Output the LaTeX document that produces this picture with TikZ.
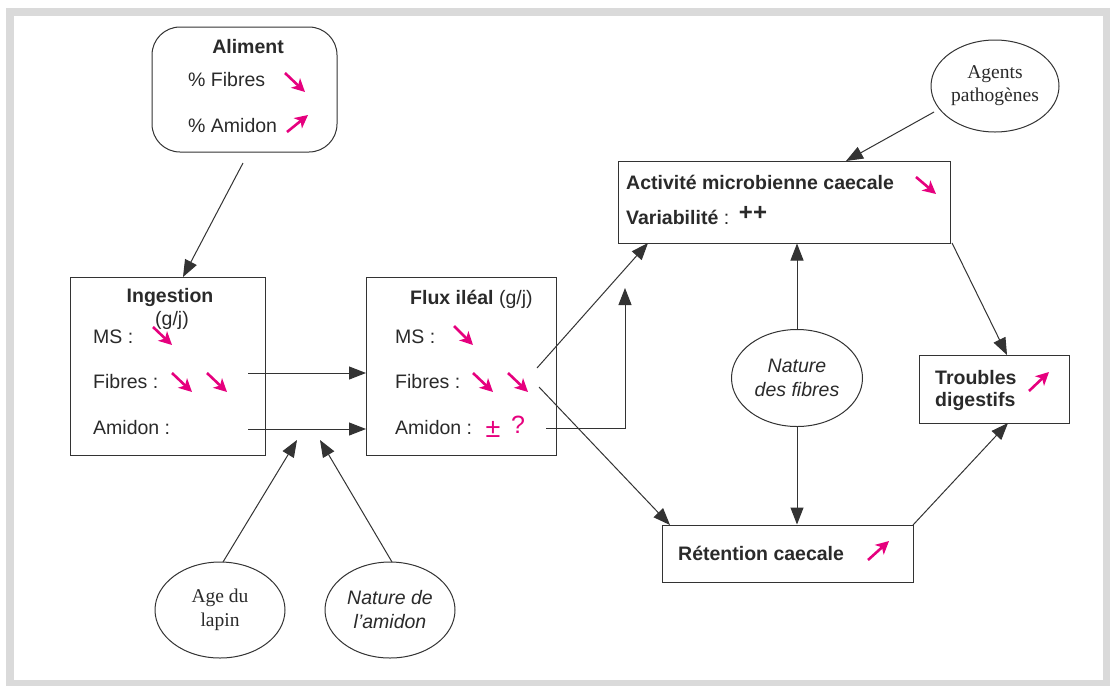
\documentclass[tikz,border=0pt]{standalone}
\usepackage{fontspec}
\setmainfont{Liberation Sans}
\newfontfamily\tnr{Liberation Serif}
\usetikzlibrary{arrows.meta,shapes.geometric}
\definecolor{mag}{HTML}{E6007E}
\definecolor{framegray}{HTML}{DADADA}
\definecolor{ink}{HTML}{2A2A2A}
\definecolor{lineink}{HTML}{333333}
\begin{document}
\begin{tikzpicture}[x=1pt,y=-1pt,
  every node/.style={font=\fontsize{19.5}{23}\selectfont, text=ink},
  box/.style={draw=lineink, line width=1pt, inner sep=0pt},
  ell/.style={draw=lineink, ellipse, line width=1pt, inner sep=0pt, align=center},
  conn/.style={draw=lineink, line width=1pt, -{Triangle[length=17pt,width=13pt]}},
  lbl/.style={anchor=west, inner sep=0pt},
  ttl/.style={inner sep=0pt, font=\fontsize{19.5}{23}\selectfont\bfseries},
  magdn/.style={draw=mag, line width=2.6pt, -{Stealth[length=13pt,width=13pt,inset=3.5pt]}},
]
\useasboundingbox (0,0) rectangle (1110,686);
\fill[framegray] (6,8) rectangle (1110,686);
\fill[white] (14,16) rectangle (1103,680);

% boxes
\node[box, rounded corners=28pt, minimum width=185pt, minimum height=125pt] (ali) at (244.5,89.5) {};
\node[box, minimum width=195pt, minimum height=178pt] (ing) at (167.5,366) {};
\node[box, minimum width=190pt, minimum height=178pt] (flux) at (461,366) {};
\node[box, minimum width=332pt, minimum height=82pt] (act) at (784,202) {};
\node[box, minimum width=150pt, minimum height=68pt] (tro) at (994,389) {};
\node[box, minimum width=251pt, minimum height=57pt] (ret) at (787.5,553.5) {};

% ellipses
\node[ell, minimum width=128pt, minimum height=92pt, font=\fontsize{19.5}{23}\selectfont\tnr] (agt) at (995,86) {Agents\\pathogènes};
\node[ell, minimum width=131pt, minimum height=97pt, font=\fontsize{19.5}{24}\selectfont\itshape] (nfib) at (797,378) {Nature\\des fibres};
\node[ell, minimum width=130pt, minimum height=96pt, font=\fontsize{19.5}{24}\selectfont\tnr] (age) at (220,610) {Age du\\lapin};
\node[ell, minimum width=130pt, minimum height=96pt, font=\fontsize{19.5}{24}\selectfont\itshape] (nam) at (390,610) {Nature de\\l'amidon};

% Aliment texts
\node[ttl] (aliT) at (248,47) {Aliment};
\node[lbl] (aliF) at (188,80) {\% Fibres};
\node[lbl] (aliA) at (188,126) {\% Amidon};
\draw[magdn] (285,73) -- (305,92);
\draw[magdn] (287,132) -- (308,115);

% Ingestion texts
\node[ttl] (ingT) at (170,297) {Ingestion};
\node[inner sep=0pt] (ingU) at (172,320) {(g/j)};
\node[lbl] (ingM) at (93,337) {MS :};
\node[lbl] (ingF) at (93,382) {Fibres :};
\node[lbl] (ingA) at (93,428) {Amidon :};
\draw[magdn] (153,327) -- (172,345);
\draw[magdn] (172,373) -- (192,392);
\draw[magdn] (207,373) -- (227,392);

% Flux texts
\node[lbl] (fluxT) at (410,299) {\textbf{Flux iléal} (g/j)};
\node[lbl] (fluxM) at (395,337) {MS :};
\node[lbl] (fluxF) at (395,382) {Fibres :};
\node[lbl] (fluxA) at (395,428) {Amidon :};
\draw[magdn] (454,326) -- (473,345);
\draw[magdn] (473,373) -- (493,392);
\draw[magdn] (508,373) -- (528,392);
\node[inner sep=0pt, text=mag, font=\fontsize{27}{28}\selectfont] (pm) at (493,429) {±};
\node[inner sep=0pt, text=mag, font=\fontsize{25}{26}\selectfont] (qm) at (518,425) {?};

% Activite texts
\node[lbl, font=\fontsize{19.5}{23}\selectfont\bfseries] (actT) at (626,182) {Activité microbienne caecale};
\node[lbl] (actV) at (626,217) {\textbf{Variabilité} :};
\node[inner sep=0pt, font=\fontsize{24}{26}\selectfont\bfseries] (pp) at (753,213) {++};
\draw[magdn] (916,177) -- (936,194);

% Troubles texts
\node[lbl, font=\fontsize{19.5}{23}\selectfont\bfseries] (troT) at (935,378) {Troubles};
\node[lbl, font=\fontsize{19.5}{23}\selectfont\bfseries] (troD) at (935,401) {digestifs};
\draw[magdn] (1029,391) -- (1049,372);

% Retention texts
\node[lbl, font=\fontsize{19.5}{23}\selectfont\bfseries] (retT) at (678,553) {Rétention caecale};
\draw[magdn] (868,560) -- (889,541);

% connector end points
\coordinate (aliOut) at (243,163);
\coordinate (ingIn) at (183,277);
\coordinate (ingF0) at (248,373);
\coordinate (ingA0) at (248,429);
\coordinate (fluxF1) at (366,373);
\coordinate (fluxA1) at (366,429);
\coordinate (ageTip) at (297,440);
\coordinate (namTip) at (320,440);
\coordinate (ageOut) at (223,562);
\coordinate (namOut) at (392,562);
\coordinate (fxUp0) at (537,368);
\coordinate (fxDn0) at (539,387);
\coordinate (actBL) at (648,243);
\coordinate (retTL) at (670,525);
\coordinate (fxA0) at (546,428);
\coordinate (bend) at (625,428);
\coordinate (amTip) at (625,288);
\coordinate (actBR) at (952,243);
\coordinate (troTop) at (1007,355);
\coordinate (retTR) at (913,525);
\coordinate (troBot) at (1008,423);
\coordinate (agtOut) at (934,112);
\coordinate (actTop) at (846,161);

% connectors
\draw[conn] (aliOut) -- (ingIn);
\draw[conn] (ingF0) -- (fluxF1);
\draw[conn] (ingA0) -- (fluxA1);
\draw[conn] (ageOut) -- (ageTip);
\draw[conn] (namOut) -- (namTip);
\draw[conn] (fxUp0) -- (actBL);
\draw[conn] (fxDn0) -- (retTL);
\draw[conn] (fxA0) -- (bend) -- (amTip);
\draw[conn] (nfib.north) -- (nfib.north |- act.south);
\draw[conn] (nfib.south) -- (nfib.south |- ret.north);
\draw[conn] (actBR) -- (troTop);
\draw[conn] (retTR) -- (troBot);
\draw[conn] (agtOut) -- (actTop);
\end{tikzpicture}
\end{document}
